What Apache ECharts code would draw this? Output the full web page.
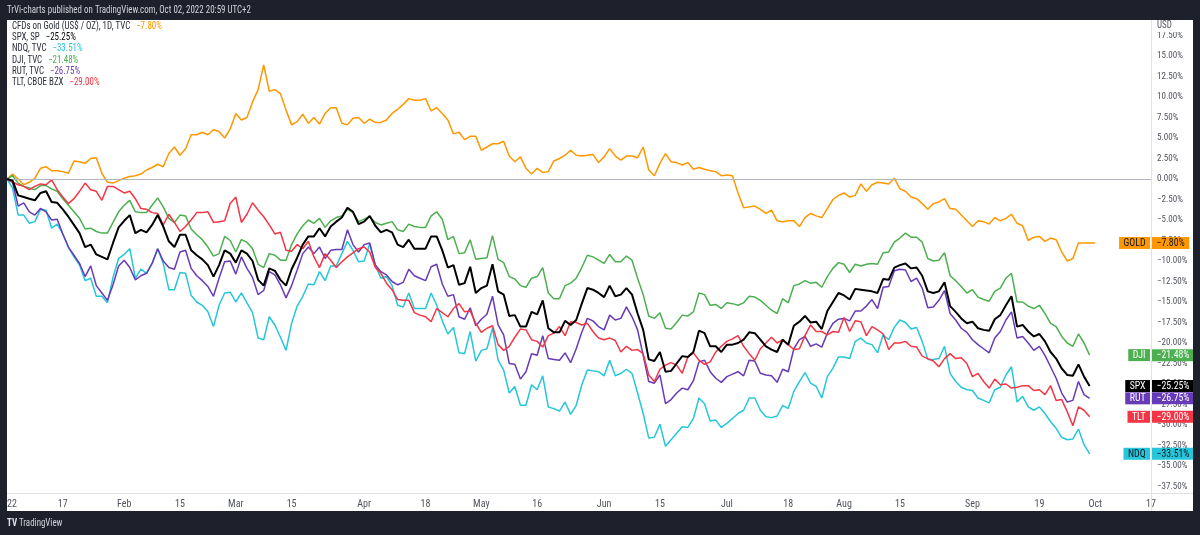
<!DOCTYPE html>
<html>
<head>
<meta charset="utf-8">
<script src="https://cdn.jsdelivr.net/npm/echarts@6/dist/echarts.min.js"></script>
<style>
html,body{margin:0;padding:0;background:#1e212b;}
#chart{width:1200px;height:535px;}
</style>
</head>
<body>
<div id="chart"></div>
<script>
// ---- categories: every weekday (gold CFD trades on US holidays) ----
const firstDay = [2022, 0, 3];
const categoryCount = 206;
const categories = [];
(function () {
  const d = new Date(Date.UTC(firstDay[0], firstDay[1], firstDay[2]));
  while (categories.length < categoryCount) {
    const wd = d.getUTCDay();
    if (wd !== 0 && wd !== 6) categories.push(d.toISOString().slice(0, 10));
    d.setUTCDate(d.getUTCDate() + 1);
  }
})();

// ---- x tick labels ----
const tickDates = ['2022-01-03','2022-01-17','2022-02-01','2022-02-15','2022-03-01','2022-03-15','2022-04-01','2022-04-18','2022-05-02','2022-05-16','2022-06-01','2022-06-15','2022-07-01','2022-07-18','2022-08-01','2022-08-15','2022-09-01','2022-09-19','2022-10-03','2022-10-17'];
const tickLabels = ['2022','17','Feb','15','Mar','15','Apr','18','May','16','Jun','15','Jul','18','Aug','15','Sep','19','Oct','17'];

// ---- series (% change since 2022-01-03) ----
const gold = [0,0.6,0,-0.7,-0.4,0.1,1.3,1.5,1.0,1.0,0.9,0.7,2.2,2.1,1.9,2.5,2.6,0.7,-0.4,-0.5,-0.2,0.1,0.3,0.4,0.6,1.1,1.4,1.8,1.5,3.1,3.9,2.9,3.7,5.4,5.4,5.7,5.4,6.0,5.8,5.0,
6.1,8.0,7.2,7.5,9.4,10.9,13.9,10.7,10.9,10.4,8.4,6.6,7.0,7.9,6.8,7.5,6.7,8.0,8.7,8.7,6.8,6.6,7.4,7.5,6.8,7.3,6.9,6.9,7.2,8.0,8.5,9.1,9.8,9.6,9.6,9.8,8.3,8.7,8.0,
7.2,5.5,5.7,4.8,5.2,5.2,3.5,3.9,4.3,4.3,4.6,2.8,2.1,2.7,1.3,0.6,1.3,0.8,0.9,2.2,2.5,2.9,3.5,2.9,2.8,2.9,3.0,2.0,2.7,3.7,2.8,2.3,2.8,2.8,2.6,3.9,1.1,0.4,1.9,3.1,
2.1,2.0,1.7,2.0,1.2,1.4,1.2,1.0,0.9,0.4,0.5,0.4,-1.7,-3.5,-3.4,-3.3,-3.7,-4.2,-3.8,-5.1,-5.2,-5.1,-5.1,-5.8,-4.7,-4.2,-4.5,-4.7,-3.6,-2.5,-2.0,-1.7,-2.2,-2.0,-0.6,-1.5,-0.7,-0.4,-0.5,
-0.6,0.1,-1.2,-1.5,-2.2,-2.4,-3.0,-3.7,-3.0,-2.8,-2.4,-3.6,-3.7,-4.4,-5.1,-5.8,-5.1,-5.2,-5.5,-4.7,-5.1,-4.8,-4.3,-5.4,-5.7,-7.5,-7.1,-7.0,-7.6,-7.2,-7.4,-8.9,-10.0,-9.7,-7.8,-7.8,-7.8,-7.8];

const spx = [0,-0.2,-2.0,-2.2,-2.4,-2.6,-1.7,-1.5,-2.8,-2.9,-3.7,-4.6,-5.6,-6.6,-8.3,-8.0,-9.2,-9.5,-9.8,-7.8,-5.9,-5.1,-4.4,-6.6,-6.2,-6.5,-5.6,-4.4,-5.8,-7.6,-8.3,-6.8,-6.8,-8.7,-9.3,-9.8,-10.5,-11.9,-10.5,-8.7,
-9.1,-10.2,-8.7,-9.1,-10.0,-12.3,-13.0,-10.9,-11.2,-12.3,-13.0,-11.0,-9.6,-8.0,-7.0,-7.0,-6.0,-7.0,-5.8,-5.2,-4.7,-3.5,-4.0,-5.5,-5.2,-4.5,-5.7,-6.5,-6.2,-6.5,-8.0,-8.3,-7.4,-8.5,-8.5,-8.5,-7.0,-7.0,-8.7,
-10.8,-10.5,-12.9,-12.7,-10.7,-13.9,-13.3,-13.0,-10.4,-13.7,-14.1,-16.7,-16.6,-18.0,-18.0,-16.2,-16.5,-14.8,-18.2,-18.7,-18.7,-17.3,-17.8,-17.2,-15.2,-13.3,-13.5,-13.9,-14.4,-13.0,-14.3,-14.1,-13.3,-14.1,-16.4,-18.4,-22.0,-22.2,-21.1,-23.5,
-23.4,-22.5,-21.6,-21.7,-21.1,-18.5,-18.8,-20.4,-20.4,-21.1,-20.2,-20.2,-20.0,-19.6,-18.7,-18.8,-19.6,-20.4,-20.8,-21.1,-19.6,-20.2,-17.9,-17.4,-16.7,-17.5,-17.4,-18.3,-16.1,-15.0,-13.9,-14.2,-14.7,-13.4,-13.5,-13.6,-13.7,-13.9,-12.2,
-12.3,-10.8,-10.5,-10.3,-10.9,-10.8,-11.8,-13.7,-13.9,-13.7,-12.6,-15.5,-16.2,-17.0,-17.6,-17.4,-18.2,-18.4,-18.5,-17.1,-16.6,-15.4,-14.3,-18.0,-17.8,-18.6,-19.2,-18.9,-19.8,-21.1,-21.9,-23.1,-23.9,-24.0,-22.6,-24.1,-25.25];

const ndq = [0,-1.1,-4.4,-4.4,-5.4,-5.2,-3.7,-3.8,-6.0,-5.5,-6.7,-8.3,-9.5,-10.5,-12.4,-12.1,-14.3,-14.3,-15.1,-12.0,-9.7,-9.2,-8.5,-12.1,-11.0,-11.5,-10.3,-8.5,-10.3,-13.5,-13.5,-11.4,-11.5,-14.2,-15.0,-15.4,-16.2,-18.0,-15.4,-13.9,
-13.8,-15.0,-13.9,-15.1,-16.3,-19.4,-19.6,-16.8,-17.8,-19.3,-20.9,-17.6,-15.5,-14.3,-12.8,-12.9,-11.3,-12.4,-10.6,-10.6,-9.1,-7.6,-8.7,-10.1,-10.0,-7.9,-10.5,-12.1,-11.9,-13.0,-15.4,-15.6,-13.9,-15.8,-15.8,-15.8,-13.9,-15.4,-17.3,
-18.9,-18.1,-21.2,-21.3,-18.6,-22.2,-20.9,-20.7,-18.2,-22.1,-23.3,-26.1,-25.3,-27.6,-27.6,-25.1,-25.7,-24.0,-27.8,-28.0,-28.3,-27.2,-28.7,-27.6,-25.1,-23.3,-23.4,-23.5,-24.0,-22.1,-24.0,-23.7,-23.2,-23.7,-26.1,-28.6,-31.6,-31.5,-29.9,-32.6,
-31.8,-31.0,-30.2,-30.3,-29.2,-26.7,-27.4,-29.5,-29.4,-30.3,-29.8,-29.2,-28.6,-28.2,-26.7,-26.7,-28.2,-29.0,-29.1,-28.9,-27.6,-28.0,-25.9,-24.7,-23.6,-24.9,-25.3,-26.7,-24.1,-23.1,-21.7,-21.7,-21.9,-19.8,-19.4,-20.0,-20.2,-21.2,-19.0,
-19.6,-18.1,-17.2,-17.5,-18.3,-18.1,-19.8,-22.0,-22.0,-21.9,-20.4,-23.7,-24.7,-25.4,-25.7,-25.8,-26.7,-27.0,-27.3,-25.7,-25.4,-23.9,-22.9,-27.2,-26.5,-27.8,-28.2,-27.8,-28.6,-29.6,-30.4,-31.5,-31.8,-31.7,-30.5,-32.4,-33.51];

const dji = [0,0.4,-0.5,-0.9,-1.1,-1.3,-0.8,-0.8,-1.2,-1.5,-2.4,-3.2,-4.0,-4.8,-6.1,-6.0,-6.4,-6.6,-6.6,-5.3,-4.0,-3.2,-2.6,-4.0,-4.1,-4.1,-3.2,-2.3,-3.4,-4.8,-5.3,-4.4,-4.5,-6.1,-6.8,-7.4,-8.3,-9.4,-9.1,-7.0,
-7.5,-8.9,-7.4,-7.7,-8.5,-10.4,-10.8,-9.1,-9.3,-9.9,-9.9,-8.0,-6.7,-5.7,-5.0,-5.4,-4.8,-5.9,-5.1,-4.7,-4.5,-3.7,-4.1,-5.2,-4.9,-4.6,-5.3,-5.6,-5.4,-5.2,-6.2,-6.4,-5.5,-5.8,-5.9,-5.9,-4.5,-4.0,-4.9,
-7.4,-7.0,-9.1,-9.0,-7.4,-9.8,-9.7,-9.6,-6.9,-9.8,-10.2,-11.9,-12.2,-13.0,-13.2,-12.1,-11.9,-10.8,-13.9,-14.6,-14.6,-13.0,-12.7,-12.1,-10.8,-9.3,-9.5,-9.9,-10.3,-9.2,-10.1,-10.1,-9.4,-9.9,-12.1,-14.1,-16.7,-17.0,-16.3,-18.2,
-18.3,-17.5,-16.6,-16.7,-16.2,-13.9,-14.1,-15.4,-15.3,-15.8,-15.1,-15.2,-15.4,-15.1,-14.3,-14.4,-14.8,-15.4,-16.0,-16.4,-14.6,-15.1,-13.0,-12.8,-12.4,-12.7,-12.6,-13.2,-11.9,-10.9,-10.2,-10.4,-11.4,-10.4,-10.6,-10.4,-10.3,-10.4,-9.0,
-8.9,-7.7,-7.2,-6.6,-7.1,-7.1,-7.7,-9.7,-10.0,-9.9,-9.0,-11.8,-12.4,-13.1,-13.9,-13.5,-14.4,-14.7,-14.9,-13.7,-13.3,-12.1,-11.5,-15.0,-15.0,-15.5,-15.8,-15.4,-16.4,-17.6,-18.0,-19.2,-20.0,-20.4,-18.9,-20.0,-21.48];

const rut = [0,-0.4,-3.3,-2.9,-4.0,-4.4,-3.6,-4.0,-5.0,-4.9,-6.7,-8.3,-9.3,-10.3,-11.9,-10.6,-13.0,-13.9,-14.8,-12.9,-10.6,-9.9,-10.8,-12.3,-11.8,-11.5,-10.3,-8.5,-10.0,-10.8,-11.0,-8.9,-8.7,-10.9,-11.8,-12.4,-13.1,-14.3,-12.1,-10.1,
-10.0,-11.6,-9.5,-10.9,-12.0,-14.1,-13.6,-11.3,-11.7,-12.9,-14.5,-13.0,-11.1,-9.1,-8.3,-9.1,-8.3,-9.7,-8.7,-8.6,-8.6,-6.2,-8.0,-8.9,-8.0,-7.8,-10.5,-11.3,-11.7,-12.5,-12.9,-12.6,-11.0,-11.8,-12.1,-12.4,-10.7,-10.4,-12.8,
-14.3,-14.1,-16.8,-17.1,-15.7,-17.9,-17.1,-16.5,-14.3,-17.8,-19.0,-22.5,-22.6,-24.4,-23.5,-21.3,-21.5,-19.1,-21.9,-22.0,-22.1,-21.2,-22.4,-20.7,-18.7,-17.0,-17.3,-18.0,-18.4,-16.6,-17.2,-17.0,-15.6,-16.8,-18.4,-21.5,-24.7,-24.9,-23.9,-27.4,
-26.9,-26.1,-25.5,-25.7,-24.6,-22.3,-22.1,-23.5,-24.3,-24.8,-24.1,-23.8,-23.5,-24.0,-22.1,-22.2,-23.7,-23.9,-24.0,-24.8,-23.2,-23.5,-20.7,-19.6,-19.2,-20.4,-20.1,-20.5,-18.8,-17.6,-17.1,-17.0,-17.3,-16.1,-16.1,-15.5,-14.7,-15.8,-13.2,
-13.1,-11.2,-11.0,-11.1,-12.5,-12.1,-13.3,-15.7,-15.6,-14.8,-13.6,-16.4,-17.2,-18.2,-18.7,-19.6,-20.2,-20.7,-21.2,-19.4,-18.6,-17.2,-16.2,-19.4,-19.2,-20.0,-20.9,-20.4,-21.5,-22.9,-24.3,-26.1,-27.2,-27.0,-24.7,-26.3,-26.75];

const tlt = [0,-0.4,-0.7,-0.9,-1.3,-0.9,-0.6,-0.7,-0.1,-1.3,-2.2,-3.0,-2.4,-1.5,-0.5,-1.3,-1.5,-2.6,-0.9,-0.9,-1.3,-1.7,-1.5,-2.4,-3.6,-3.7,-4.1,-4.2,-5.6,-4.3,-5.3,-6.4,-5.8,-5.0,-4.1,-4.1,-4.0,-5.3,-5.2,-5.1,
-3.0,-2.2,-5.3,-4.3,-2.9,-3.8,-4.6,-5.6,-6.7,-6.5,-8.7,-8.8,-8.0,-8.5,-7.6,-9.5,-10.8,-9.1,-9.9,-10.8,-10.1,-9.5,-9.0,-8.5,-8.3,-8.9,-10.8,-11.5,-12.7,-13.5,-14.7,-14.8,-14.8,-16.3,-16.6,-16.8,-17.4,-15.8,-16.3,
-16.8,-15.8,-15.2,-16.2,-16.1,-17.6,-18.7,-18.2,-17.9,-20.2,-20.9,-20.4,-19.3,-18.3,-18.4,-19.6,-19.8,-20.5,-19.1,-18.8,-18.0,-19.1,-17.4,-17.5,-17.8,-17.6,-18.6,-19.4,-19.6,-19.4,-19.7,-21.1,-20.4,-20.9,-20.8,-21.3,-23.9,-24.7,-23.2,-22.7,
-22.4,-22.7,-23.7,-21.7,-21.2,-22.1,-22.6,-22.3,-21.1,-20.4,-19.8,-19.5,-19.1,-20.4,-21.3,-22.1,-20.7,-20.0,-19.3,-20.0,-19.6,-20.2,-20.8,-20.7,-19.1,-17.8,-18.6,-18.6,-19.0,-18.6,-18.7,-16.9,-18.6,-17.3,-17.4,-19.1,-18.0,-18.4,-18.9,
-20.8,-20.0,-20.0,-19.8,-20.4,-20.5,-21.6,-21.9,-22.2,-22.9,-21.9,-21.3,-21.9,-21.8,-22.5,-24.1,-23.7,-24.7,-25.5,-24.4,-25.1,-25.0,-25.5,-25.4,-25.2,-25.2,-25.8,-25.7,-26.3,-25.2,-27.0,-26.9,-28.4,-30.1,-27.8,-28.2,-29.0];

// ---- series meta ----
const seriesNames = ['CFDs on Gold (US$ / OZ), 1D, TVC', 'SPX, SP', 'NDQ, TVC', 'DJI, TVC', 'RUT, TVC', 'TLT, CBOE BZX'];
const shortNames = ['GOLD', 'SPX', 'NDQ', 'DJI', 'RUT', 'TLT'];
const seriesData = [gold, spx, ndq, dji, rut, tlt];
const seriesColors = ['#ff9800', '#000000', '#26c6da', '#4caf50', '#673ab7', '#f23645'];
const labelTextColors = ['#131722', '#ffffff', '#131722', '#ffffff', '#ffffff', '#ffffff'];

// pick the narrowest installed sans font (reference text is condensed)
function pickFont(cands) {
  const ctx = document.createElement('canvas').getContext('2d');
  let best = 'Liberation Sans', bw = Infinity;
  cands.forEach(f => {
    ctx.font = '20px "' + f + '", monospace';
    const w = ctx.measureText('CFDs on Gold 15.00% TradingView').width;
    if (w < bw - 0.5) { bw = w; best = f; }
  });
  return best;
}
const FONT_NAME = pickFont(['Liberation Sans Narrow', 'DejaVu Sans Condensed', 'Roboto Condensed', 'Liberation Sans', 'Roboto', 'Lato']);
const FONT = '"' + FONT_NAME + '", "Liberation Sans", sans-serif';
const fmtPct = v => (v < 0 ? '\u2212' : '') + Math.abs(v).toFixed(2) + '%';

// horizontal squeeze factor so graphic texts match the reference widths
function textW(str, px) {
  const ctx = document.createElement('canvas').getContext('2d');
  ctx.font = px + 'px ' + FONT;
  return ctx.measureText(str).width;
}
const SQ = Math.min(1, 148 / textW('CFDs on Gold (US$ / OZ), 1D, TVC  \u22127.80%', 10));

const chart = echarts.init(document.getElementById('chart'), null, {renderer: 'canvas'});

const series = seriesData.map((d, k) => ({
  name: shortNames[k], type: 'line', data: d, showSymbol: false, symbol: 'none',
  animation: false, z: k === 1 ? 6 : 3,
  lineStyle: {width: k === 1 ? 2 : 1.5, color: seriesColors[k]},
  itemStyle: {color: seriesColors[k]},
  markLine: k === 0 ? {silent: true, symbol: 'none', animation: false, label: {show: false},
    lineStyle: {color: '#b2b5be', width: 1, type: 'solid'}, data: [{yAxis: 0}]} : undefined
}));

const option = {
  backgroundColor: '#1e212b',
  animation: false,
  grid: {left: 7, right: 49, top: 15, bottom: 28, containLabel: false, outerBoundsMode: 'none'},
  xAxis: {
    type: 'category', data: categories, boundaryGap: false, offset: -14,
    axisLine: {show: false}, axisTick: {show: false}, splitLine: {show: false},
    axisLabel: {
      interval: (i, v) => tickDates.indexOf(v) >= 0,
      formatter: v => { const j = tickDates.indexOf(v); return j >= 0 ? tickLabels[j] : ''; },
      color: '#50535e', fontSize: 10, margin: 6, fontFamily: FONT
    }
  },
  yAxis: {
    type: 'value', position: 'right', min: -40, max: 20, interval: 2.5,
    axisLine: {show: false}, axisTick: {show: false}, splitLine: {show: false},
    axisLabel: {
      margin: 6, fontSize: 9, color: '#50535e', fontFamily: FONT,
      formatter: v => (v > 18 || v < -38) ? '' : fmtPct(v)
    }
  },
  series: series
};
chart.setOption(option);

// ---- decorations positioned through the chart's own scales ----
const els = [];
els.push({type: 'rect', z: -10, shape: {x: 7, y: 20, width: 1186, height: 491}, style: {fill: '#ffffff'}});
els.push({type: 'line', z: 1, shape: {x1: 7, y1: 493.5, x2: 1193, y2: 493.5}, style: {stroke: '#e0e3eb', lineWidth: 1}});
els.push({type: 'line', z: 1, shape: {x1: 1151.5, y1: 20, x2: 1151.5, y2: 511}, style: {stroke: '#e0e3eb', lineWidth: 1}});
// dark frame pieces on top (clip)
els.push({type: 'rect', z: 100, shape: {x: 0, y: 0, width: 7, height: 535}, style: {fill: '#1e212b'}});
els.push({type: 'rect', z: 100, shape: {x: 1193, y: 0, width: 7, height: 535}, style: {fill: '#1e212b'}});
els.push({type: 'rect', z: 100, shape: {x: 0, y: 0, width: 1200, height: 20}, style: {fill: '#1e212b'}});
els.push({type: 'rect', z: 100, shape: {x: 0, y: 511, width: 1200, height: 24}, style: {fill: '#1e212b'}});
// header / footer
els.push({type: 'text', z: 101, x: 7, y: 10, scaleX: SQ, style: {text: 'TrVi-charts published on TradingView.com, Oct 02, 2022 20:59 UTC+2',
  fill: '#d1d4dc', font: '10px ' + FONT, verticalAlign: 'middle'}});
els.push({type: 'text', z: 101, x: 7, y: 523, scaleX: SQ, style: {text: 'TV', fill: '#e0e3eb', font: 'bold 10px ' + FONT, verticalAlign: 'middle'}});
els.push({type: 'text', z: 101, x: 19, y: 523, scaleX: SQ, style: {text: 'TradingView', fill: '#d1d4dc', font: '10px ' + FONT, verticalAlign: 'middle'}});
// USD label
els.push({type: 'rect', z: 50, shape: {x: 1152.5, y: 20, width: 40, height: 12}, style: {fill: '#ffffff'}});
els.push({type: 'text', z: 51, x: 1157, y: 25, scaleX: SQ, style: {text: 'USD', fill: '#50535e', font: '10px ' + FONT, verticalAlign: 'middle'}});
// legend
seriesNames.forEach((nm, k) => {
  const last = seriesData[k][seriesData[k].length - 1];
  els.push({type: 'text', z: 51, x: 12, y: 26.5 + k * 11.2, scaleX: SQ, style: {
    text: '{a|' + nm + '}  {b|' + fmtPct(last) + '}', verticalAlign: 'middle',
    rich: {a: {fill: '#2a2e39', font: '10px ' + FONT}, b: {fill: seriesColors[k], font: '10px ' + FONT}}
  }});
});
// end labels on price axis
seriesData.forEach((d, k) => {
  const last = d[d.length - 1];
  const y = chart.convertToPixel({yAxisIndex: 0}, last);
  els.push({type: 'text', z: 60, x: 1150, y: y, scaleX: SQ, style: {text: shortNames[k], fill: labelTextColors[k],
    font: '11px ' + FONT, align: 'right', verticalAlign: 'middle', backgroundColor: seriesColors[k], padding: [1, 5, 0, 5]}});
  els.push({type: 'text', z: 60, x: 1152, y: y, scaleX: SQ, style: {text: fmtPct(last), fill: labelTextColors[k],
    font: '11px ' + FONT, align: 'left', verticalAlign: 'middle', backgroundColor: seriesColors[k], padding: [1, 5, 0, 5]}});
});
chart.setOption({graphic: {elements: els}});
</script>
</body>
</html>
